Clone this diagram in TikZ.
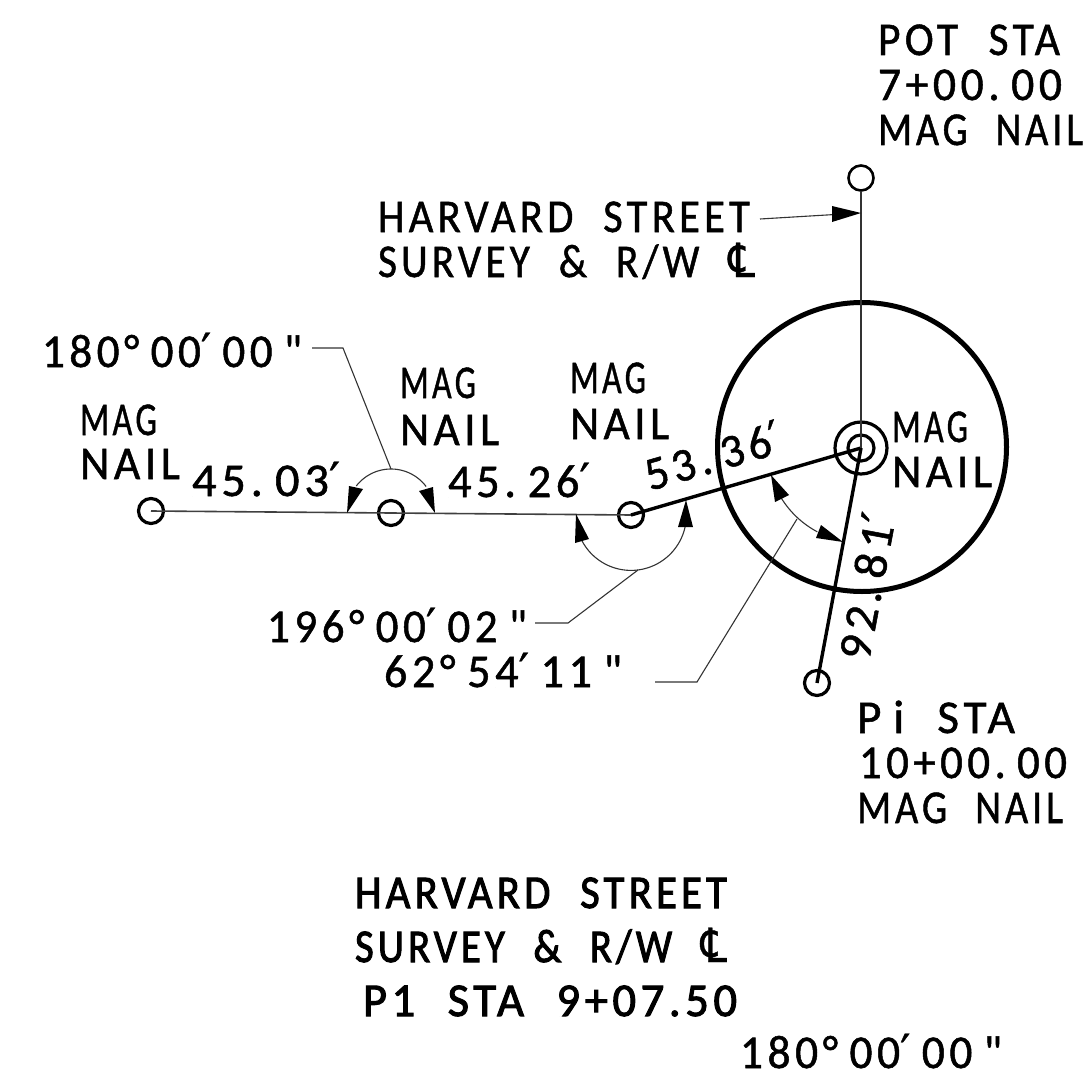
\documentclass[tikz,border=0pt]{standalone}
\usepackage{fontspec}
\usepackage{graphicx}
\newfontfamily\basefont[LetterSpace=10,FakeBold=1.1]{Carlito}
\newfontfamily\heavyfont[LetterSpace=10,FakeBold=2.2]{Carlito}
\newfontfamily\clfont[FakeBold=0.8]{DejaVu Sans}
\newcommand{\CLsym}{{\clfont ℄}}
\newcommand{\primemark}{{\clfont ′}}
\newcommand{\ws}{\hspace{.7em}}
\newcommand{\ds}{\hspace{.25em}}
\newcommand{\magword}{MAG}
\tikzset{
  nail/.style={circle,draw=black,line width=3.2pt,minimum size=25pt,inner sep=0pt},
  txt/.style={anchor=base west,inner sep=0pt,outer sep=0pt,font=\fontsize{47}{47}\basefont,text=black},
  heavytxt/.style={txt,font=\fontsize{47}{47}\heavyfont},
  thinline/.style={line width=1.6pt,black!75},
  heavyline/.style={line width=3.4pt,black},
  leader/.style={line width=1.1pt,black!80},
  tri/.style={fill=black,draw=none}
}
\newcommand{\lbl}[6][txt]{\node[#1] (#2) at (#3,#4) {\resizebox{#5pt}{\height}{#6}};}
\begin{document}
\begin{tikzpicture}[x=1pt,y=-1pt]
\useasboundingbox (0,0) rectangle (1085,1070);
% big circle and centre
\node[circle,draw=black,line width=5pt,minimum size=289pt,inner sep=0pt] (bigc) at (862,447) {};
\node[circle,draw=black,line width=3.2pt,minimum size=52pt,inner sep=0pt] (centerouter) at (861,448) {};
\node[nail,minimum size=26pt] (centerinner) at (861,448) {};
% nails
\node[nail] (n1) at (151,511) {};
\node[nail] (n2) at (391,513) {};
\node[nail] (n3) at (631,515) {};
\node[nail] (n4) at (817,683) {};
\node[nail,line width=2.6pt] (n5) at (861,178) {};
% traverse lines
\draw[thinline] (n1.center) -- (n3.center);
\draw[heavyline] (n3.center) -- (centerinner.center);
\draw[heavyline] (centerinner.center) -- (n4.center);
\draw[line width=1.3pt,black!80] (n5.south) -- (centerinner.center);
% pointer to centreline
\coordinate (pstart) at (760,219);
\coordinate (ptip) at (861,213);
\draw[leader] (pstart) -- (835,214.5);
\fill[tri] (ptip) -- (832,206) -- (832,222) -- cycle;
% arc at nail 2
\draw[leader] plot[domain=-142:-37,samples=40] ({391+44*cos(\x)},{513+44*sin(\x)});
\fill[tri] (347,513) -- (349,486) -- (363,489) -- cycle;
\fill[tri] (435,513) -- (419,491) -- (433,487) -- cycle;
\coordinate (a1) at (391,469);
\coordinate (a1k) at (343,348);
\coordinate (a1e) at (312,348);
\draw[leader] (a1) -- (a1k) -- (a1e);
% arc at nail 3
\draw[leader] plot[domain=12.5:152,samples=50] ({631+55.4*cos(\x)},{515+55.4*sin(\x)});
\fill[tri] (576,514) -- (575,543) -- (589,539) -- cycle;
\fill[tri] (686,500) -- (678,527) -- (693,527) -- cycle;
\coordinate (a2) at (638,570);
\coordinate (a2k) at (568,623);
\coordinate (a2e) at (535,623);
\draw[leader] (a2) -- (a2k) -- (a2e);
% arc at centre
\draw[leader] plot[domain=118:148,samples=30] ({862+95*cos(\x)},{448+95*sin(\x)});
\fill[tri] (771,475) -- (775,502) -- (789,495) -- cycle;
\fill[tri] (843,542) -- (816,538) -- (821,525) -- cycle;
\coordinate (a3) at (797,519);
\coordinate (a3k) at (697,682);
\coordinate (a3e) at (655,682);
\draw[leader] (a3) -- (a3k) -- (a3e);
% text
\lbl{pot1}{878}{55}{182}{POT\ws STA}
\lbl{pot2}{878}{100}{184}{7+00.\ds 00}
\lbl{pot3}{878}{145}{205}{MAG\ws NAIL}
\lbl{hs1}{378}{232}{372}{HARVARD\ws STREET}
\lbl{hs2}{378}{277}{377}{SURVEY\ws \&\ws R/W\ws \CLsym}
\lbl{ang1}{42}{367}{260}{180°\ds 00\primemark\ds 00\ds "}
\lbl{m1a}{80}{435}{77}{\magword}
\lbl{m1b}{80}{479}{100}{NAIL}
\lbl{d1}{192}{496}{148}{45.\ds 03\primemark}
\lbl{m2a}{400}{398}{76}{\magword}
\lbl{m2b}{400}{445}{99}{NAIL}
\lbl{d2}{448}{497}{142}{45.\ds 26\primemark}
\lbl{m3a}{570}{393}{76}{\magword}
\lbl{m3b}{570}{439}{99}{NAIL}
\lbl[txt,rotate=16.2]{d3}{650}{491}{140}{53.\ds 36\primemark}
\lbl{m4a}{892}{442}{76}{\magword}
\lbl{m4b}{892}{487}{100}{NAIL}
\lbl[txt,rotate=79.5]{d4}{869}{662}{148}{92.\ds 81\primemark}
\lbl{ang2}{267}{642}{260}{196°\ds 00\primemark\ds 02\ds "}
\lbl{ang3}{384}{687}{238}{62°\ds 54\primemark\ds 11\ds "}
\lbl{pi1}{857}{733}{158}{P\ds i\ws STA}
\lbl{pi2}{859}{778}{208}{10+00.\ds 00}
\lbl{pi3}{857}{823}{206}{MAG\ws NAIL}
\lbl[heavytxt]{t1}{355}{908}{372}{HARVARD\ws STREET}
\lbl[heavytxt]{t2}{355}{962}{372}{SURVEY\ws \&\ws R/W\ws \CLsym}
\lbl[heavytxt]{t3}{363}{1016}{374}{P1\ws STA\ws 9+07.50}
\lbl{ang4}{740}{1068}{262}{180°\ds 00\primemark\ds 00\ds "}
\end{tikzpicture}
\end{document}
